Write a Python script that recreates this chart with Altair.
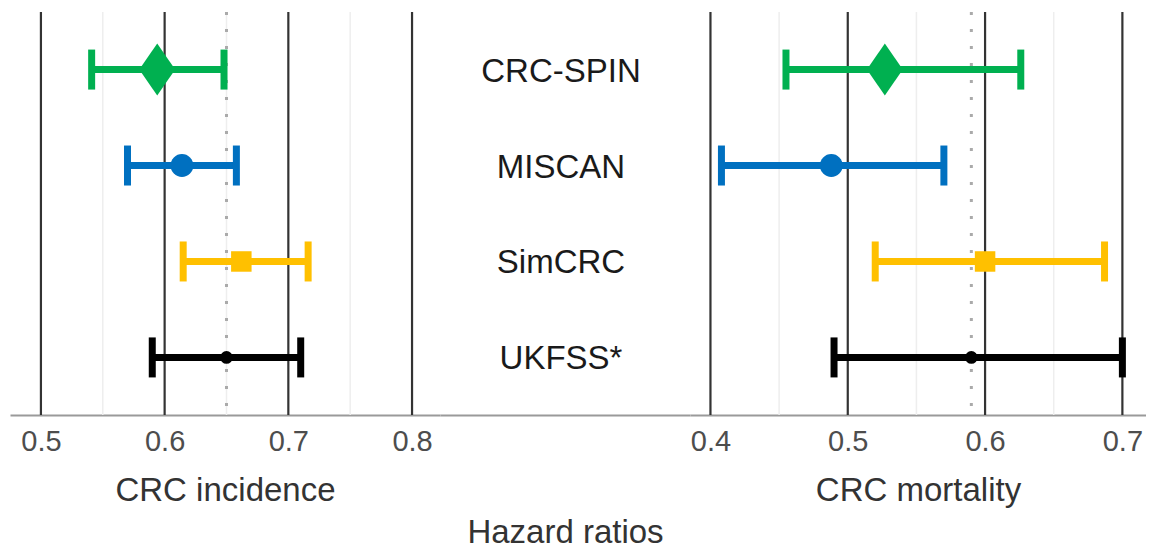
import altair as alt
import pandas as pd

# Models, marker styling per model
models = ["CRC-SPIN", "MISCAN", "SimCRC", "UKFSS*"]
colors = ["#00B050", "#0070C0", "#FFC000", "#000000"]
shapes = ["M0,-1L0.69,0L0,1L-0.69,0Z", "circle", "square", "circle"]
sizes = [2704, 520, 420, 160]

# Hazard ratios with 95% intervals, CRC incidence
inc_hr = [0.594, 0.614, 0.662, 0.65]
inc_lo = [0.541, 0.570, 0.615, 0.59]
inc_hi = [0.648, 0.658, 0.716, 0.71]

# Hazard ratios with 95% intervals, CRC mortality
mort_hr = [0.527, 0.488, 0.600, 0.59]
mort_lo = [0.455, 0.408, 0.520, 0.49]
mort_hi = [0.626, 0.570, 0.687, 0.70]

inc_ticks = [0.5, 0.6, 0.7, 0.8]
inc_minor = [0.55, 0.65, 0.75]
mort_ticks = [0.4, 0.5, 0.6, 0.7]
mort_minor = [0.45, 0.55, 0.65]
inc_ref = 0.65   # trial estimate, incidence
mort_ref = 0.59  # trial estimate, mortality

FONT = "Liberation Sans"
PANEL_H = 403

yscale = alt.Scale(type="point", domain=models, padding=0.6)
Y = alt.Y("model:N", scale=yscale, axis=None)
COLOR = alt.Color("model:N", scale=alt.Scale(domain=models, range=colors), legend=None)


def x_axis(ticks, title):
    return alt.Axis(
        values=ticks, format=".1f", grid=False, ticks=False,
        domainColor="#9a9a9a", domainWidth=2,
        labelFont=FONT, labelFontSize=29, labelColor="#4d4d4d",
        labelPadding=12, labelFlush=False,
        title=title, titleFont=FONT, titleFontSize=33, titleFontWeight="normal",
        titleColor="#333333", titleY=85, titleBaseline="alphabetic",
    )


def forest(hr, lo, hi, ticks, minor, ref, domain, width, title):
    df = pd.DataFrame({"model": models, "hr": hr, "lo": lo, "hi": hi})
    xs = alt.Scale(domain=domain, nice=False, zero=False)
    ax = x_axis(ticks, title)

    major = alt.Chart(pd.DataFrame({"v": ticks})).mark_rule(
        color="#333333", strokeWidth=2.2
    ).encode(x=alt.X("v:Q", scale=xs, axis=ax))

    minor_grid = alt.Chart(pd.DataFrame({"v": minor})).mark_rule(
        color="#eeeeee", strokeWidth=1.5
    ).encode(x=alt.X("v:Q", scale=xs, axis=ax))

    ref_line = alt.Chart(pd.DataFrame({"v": [ref]})).mark_rule(
        color="#aaaaaa", strokeWidth=3, strokeDash=[3, 14]
    ).encode(x=alt.X("v:Q", scale=xs, axis=ax))

    base = alt.Chart(df)
    bars = base.mark_rule(strokeWidth=7).encode(
        x=alt.X("lo:Q", scale=xs, axis=ax), x2="hi:Q", y=Y, color=COLOR
    )
    cap_lo = base.mark_tick(thickness=7, size=40, opacity=1).encode(
        x=alt.X("lo:Q", scale=xs, axis=ax), y=Y, color=COLOR
    )
    cap_hi = base.mark_tick(thickness=7, size=40, opacity=1).encode(
        x=alt.X("hi:Q", scale=xs, axis=ax), y=Y, color=COLOR
    )
    pts = base.mark_point(filled=True, opacity=1).encode(
        x=alt.X("hr:Q", scale=xs, axis=ax), y=Y, color=COLOR,
        shape=alt.Shape("model:N", scale=alt.Scale(domain=models, range=shapes), legend=None),
        size=alt.Size("model:N", scale=alt.Scale(type="ordinal", domain=models, range=sizes),
                      legend=None),
    )
    return alt.layer(major, minor_grid, ref_line, bars, cap_lo, cap_hi, pts).properties(
        width=width, height=PANEL_H
    )


left = forest(inc_hr, inc_lo, inc_hi, inc_ticks, inc_minor, inc_ref,
              [0.475, 0.8226], 430, "CRC incidence")
right = forest(mort_hr, mort_lo, mort_hi, mort_ticks, mort_minor, mort_ref,
               [0.3851, 0.7172], 456, "CRC mortality")

labels_df = pd.DataFrame({"model": models, "c": [0.5] * len(models)})
middle = alt.Chart(labels_df).mark_text(
    font=FONT, fontSize=33, color="#1a1a1a", baseline="middle", dx=-4, dy=2
).encode(
    x=alt.X("c:Q", scale=alt.Scale(domain=[0, 1]),
            axis=alt.Axis(labels=False, ticks=False, grid=False,
                          domainColor="#9a9a9a", domainWidth=2,
                          title="Hazard ratios", titleFont=FONT, titleFontSize=33,
                          titleFontWeight="normal", titleColor="#333333",
                          titleY=127, titleBaseline="alphabetic")),
    y=Y,
    text="model:N",
).properties(width=250, height=PANEL_H)

chart = alt.hconcat(left, middle, right, spacing=0).resolve_scale(
    x="independent", color="shared"
).properties(
    padding={"left": 10, "top": 10, "right": 0, "bottom": 0}
).configure(
    background="white", view=alt.ViewConfig(stroke="transparent", strokeWidth=0)
)

chart.save("out.html", embed_options={"renderer": "svg", "actions": False})
